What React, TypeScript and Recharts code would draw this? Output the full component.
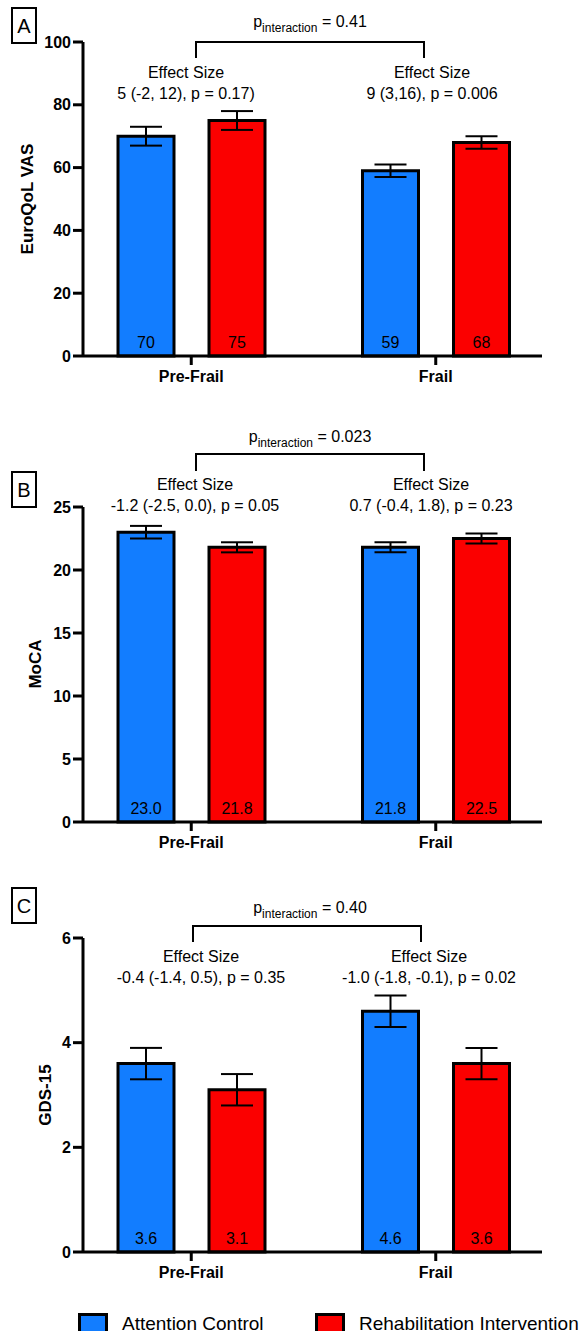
import { BarChart, Bar, XAxis, YAxis, ErrorBar, LabelList } from "recharts";

const GROUPS = ["Pre-Frail", "Frail"];

// EuroQoL VAS
const vasAttention = [70, 59];
const vasRehab = [75, 68];
const vasAttentionErr = [3, 2];
const vasRehabErr = [3, 2];
const vasTicks = [0, 20, 40, 60, 80, 100];

// MoCA
const mocaAttention = [23.0, 21.8];
const mocaRehab = [21.8, 22.5];
const mocaAttentionErr = [0.5, 0.4];
const mocaRehabErr = [0.4, 0.4];
const mocaTicks = [0, 5, 10, 15, 20, 25];

// GDS-15
const gdsAttention = [3.6, 4.6];
const gdsRehab = [3.1, 3.6];
const gdsAttentionErr = [0.3, 0.3];
const gdsRehabErr = [0.3, 0.3];
const gdsTicks = [0, 2, 4, 6];

const BLUE = "#127DFF";
const RED = "#FB0000";
const FONT = "'Liberation Sans', Arial, sans-serif";

const buildRows = (
  att: number[],
  reh: number[],
  attErr: number[],
  rehErr: number[]
) =>
  GROUPS.map((g, i) => ({
    group: g,
    attention: att[i],
    rehab: reh[i],
    attentionErr: attErr[i],
    rehabErr: rehErr[i],
  }));

const ValueLabel = (digits: number) => (props: any) => {
  const { x, y, width, height, value } = props;
  return (
    <text
      x={x + width / 2}
      y={y + height - 8}
      textAnchor="middle"
      fontSize={16}
      fontFamily={FONT}
      fill="#000"
    >
      {Number(value).toFixed(digits)}
    </text>
  );
};

interface PanelProps {
  top: number;
  plotHeight: number;
  data: any[];
  ticks: number[];
  digits: number;
}

const Panel = ({ top, plotHeight, data, ticks, digits }: PanelProps) => {
  const height = plotHeight + 80;
  return (
    <div style={{ position: "absolute", left: 0, top: top - 40 }}>
      <BarChart
        width={587}
        height={height}
        data={data}
        margin={{ top: 40, right: 45, left: 0, bottom: 10 }}
        barSize={56}
        barGap={35}
      >
        <XAxis
          dataKey="group"
          height={30}
          padding={{ left: -14, right: -16 }}
          axisLine={{ stroke: "#000", strokeWidth: 3 }}
          tickLine={{ stroke: "#000", strokeWidth: 3 }}
          tickSize={9}
          tickMargin={6}
          tick={{ fill: "#000", fontSize: 16, fontWeight: 700, fontFamily: FONT }}
        />
        <YAxis
          width={83}
          domain={[ticks[0], ticks[ticks.length - 1]]}
          ticks={ticks}
          interval={0}
          axisLine={{ stroke: "#000", strokeWidth: 3 }}
          tickLine={{ stroke: "#000", strokeWidth: 3 }}
          tickSize={10}
          tickMargin={2}
          tick={{ fill: "#000", fontSize: 16, fontWeight: 700, fontFamily: FONT }}
        />
        <Bar dataKey="attention" fill={BLUE} stroke="#000" strokeWidth={3} isAnimationActive={false}>
          <ErrorBar dataKey="attentionErr" width={16} stroke="#000" strokeWidth={2} />
          <LabelList dataKey="attention" content={ValueLabel(digits)} />
        </Bar>
        <Bar dataKey="rehab" fill={RED} stroke="#000" strokeWidth={3} isAnimationActive={false}>
          <ErrorBar dataKey="rehabErr" width={16} stroke="#000" strokeWidth={2} />
          <LabelList dataKey="rehab" content={ValueLabel(digits)} />
        </Bar>
      </BarChart>
    </div>
  );
};

const PInter = ({ y, value }: { y: number; value: string }) => (
  <text x={310} y={y} textAnchor="middle" fontSize={16} fontFamily={FONT} fill="#000">
    <tspan>p</tspan>
    <tspan fontSize={12} dy={5}>interaction</tspan>
    <tspan dy={-5}> = {value}</tspan>
  </text>
);

const Bracket = ({ x1, x2, y, drop }: { x1: number; x2: number; y: number; drop: number }) => (
  <path
    d={`M${x1},${y + drop} L${x1},${y} L${x2},${y} L${x2},${y + drop}`}
    fill="none"
    stroke="#000"
    strokeWidth={2}
  />
);

const Effect = ({ x, y, text }: { x: number; y: number; text: string }) => (
  <g fontSize={16} fontFamily={FONT} fill="#000" textAnchor="middle">
    <text x={x} y={y}>Effect Size</text>
    <text x={x} y={y + 21}>{text}</text>
  </g>
);

const Tag = ({ y, label }: { y: number; label: string }) => (
  <g>
    <rect x={12} y={y} width={24} height={35} fill="#fff" stroke="#000" strokeWidth={2} />
    <text x={24} y={y + 25} textAnchor="middle" fontSize={20} fontFamily={FONT} fill="#000">
      {label}
    </text>
  </g>
);

const YTitle = ({ x, y, text }: { x: number; y: number; text: string }) => (
  <text
    x={x}
    y={y}
    transform={`rotate(-90 ${x} ${y})`}
    textAnchor="middle"
    dominantBaseline="central"
    fontSize={17}
    fontWeight={700}
    fontFamily={FONT}
    fill="#000"
  >
    {text}
  </text>
);

export default function App() {
  return (
    <div style={{ position: "absolute", left: 0, top: 0, width: 587, height: 1331, background: "#fff", overflow: "hidden" }}>
      <Panel
        top={42}
        plotHeight={314}
        data={buildRows(vasAttention, vasRehab, vasAttentionErr, vasRehabErr)}
        ticks={vasTicks}
        digits={0}
      />
      <Panel
        top={507}
        plotHeight={315}
        data={buildRows(mocaAttention, mocaRehab, mocaAttentionErr, mocaRehabErr)}
        ticks={mocaTicks}
        digits={1}
      />
      <Panel
        top={938}
        plotHeight={314}
        data={buildRows(gdsAttention, gdsRehab, gdsAttentionErr, gdsRehabErr)}
        ticks={gdsTicks}
        digits={1}
      />
      <svg
        width={587}
        height={1331}
        style={{ position: "absolute", left: 0, top: 0, pointerEvents: "none" }}
      >
        {/* panel A */}
        <Tag y={8} label="A" />
        <PInter y={27} value="0.41" />
        <Bracket x1={196} x2={424} y={42} drop={16} />
        <Effect x={186} y={78} text="5 (-2, 12), p = 0.17)" />
        <Effect x={432} y={78} text="9 (3,16), p = 0.006" />
        <YTitle x={27} y={199} text="EuroQoL VAS" />

        {/* panel B */}
        <Tag y={472} label="B" />
        <PInter y={442} value="0.023" />
        <Bracket x1={196} x2={424} y={454} drop={17} />
        <Effect x={195} y={490} text="-1.2 (-2.5, 0.0), p = 0.05" />
        <Effect x={431} y={490} text="0.7 (-0.4, 1.8), p = 0.23" />
        <YTitle x={35} y={664} text="MoCA" />

        {/* panel C */}
        <Tag y={888} label="C" />
        <PInter y={913} value="0.40" />
        <Bracket x1={193} x2={421} y={926} drop={16} />
        <Effect x={201} y={962} text="-0.4 (-1.4, 0.5), p = 0.35" />
        <Effect x={429} y={962} text="-1.0 (-1.8, -0.1), p = 0.02" />
        <YTitle x={45} y={1095} text="GDS-15" />

        {/* legend */}
        <rect x={79.5} y={1314.5} width={27} height={18} fill={BLUE} stroke="#000" strokeWidth={3} />
        <text x={122} y={1330} fontSize={19} fontFamily={FONT} fill="#000">Attention Control</text>
        <rect x={316.5} y={1314.5} width={27} height={18} fill={RED} stroke="#000" strokeWidth={3} />
        <text x={359} y={1330} fontSize={19} fontFamily={FONT} fill="#000">Rehabilitation Intervention</text>
      </svg>
    </div>
  );
}
